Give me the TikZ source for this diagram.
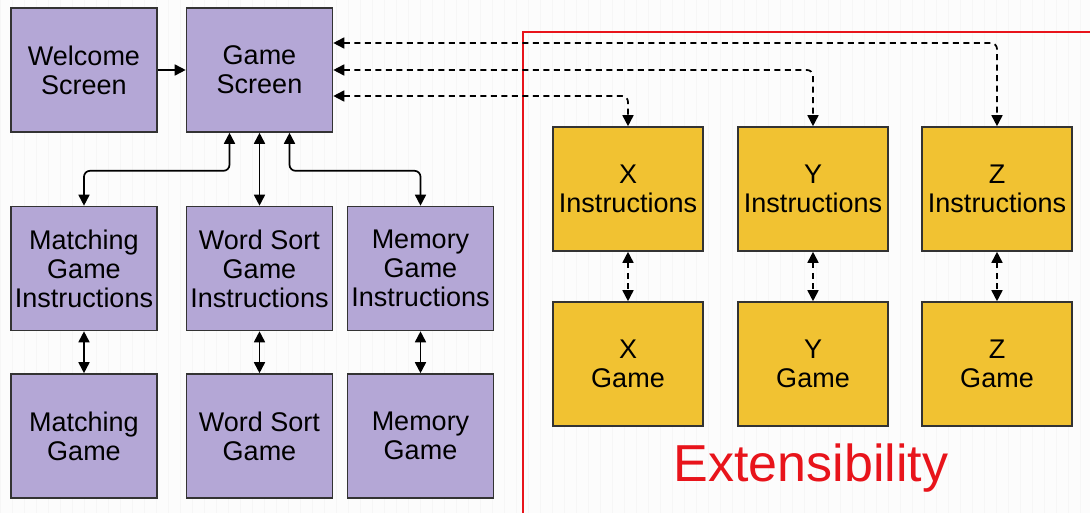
\documentclass[tikz,border=0pt]{standalone}
\usepackage{fontspec}
\setmainfont{Liberation Sans}
\usetikzlibrary{arrows.meta,calc}
\definecolor{boxpurple}{HTML}{B4A7D6}
\definecolor{boxyellow}{HTML}{F1C232}
\definecolor{edgegray}{HTML}{333333}
\definecolor{redline}{HTML}{E8141B}
\tikzset{
  pbox/.style={draw=edgegray, line width=1.6pt, fill=boxpurple, minimum width=146pt, minimum height=124pt, inner sep=0pt, align=center, font=\fontsize{27}{29}\selectfont},
  ybox/.style={draw=edgegray, line width=1.6pt, fill=boxyellow, minimum width=150pt, minimum height=124pt, inner sep=0pt, align=center, font=\fontsize{27}{29}\selectfont},
  tip/.tip={Triangle[width=11pt,length=11pt]},
  conn/.style={line width=1.7pt, draw=black, tip-tip, rounded corners=6pt},
  oneway/.style={line width=1.7pt, draw=black, -tip},
  dconn/.style={conn, dash pattern=on 6pt off 4.5pt}
}
\begin{document}
\begin{tikzpicture}[x=1pt,y=-1pt]
\useasboundingbox (0,0) rectangle (1090,513);
\clip (0,0) rectangle (1090,513);
\fill[white!98!gray] (0,0) rectangle (1090,513);
\draw[gray!7, line width=0.3pt, step=12] (0,0) grid (1092,516);
\draw[redline, line width=1.6pt] (523,32) rectangle (1110,530);

\node[pbox] (WS) at (84,70) {Welcome\\Screen};
\node[pbox] (GS) at (259.5,70) {Game\\Screen};
\node[pbox] (MI) at (84,268.5) {Matching\\Game\\Instructions};
\node[pbox] (WI) at (259.5,268.5) {Word Sort\\Game\\Instructions};
\node[pbox] (EI) at (420.5,268.5) {Memory\\Game\\Instructions};
\node[pbox] (MG) at (84,436) {Matching\\Game};
\node[pbox] (WG) at (259.5,436) {Word Sort\\Game};
\node[pbox] (EG) at (420.5,436) {Memory\\Game};

\node[ybox] (XI) at (628,189) {X\\Instructions};
\node[ybox] (YI) at (813,189) {Y\\Instructions};
\node[ybox] (ZI) at (997,189) {Z\\Instructions};
\node[ybox] (XG) at (628,364) {X\\Game};
\node[ybox] (YG) at (813,364) {Y\\Game};
\node[ybox] (ZG) at (997,364) {Z\\Game};

\node[text=redline, font=\fontsize{52}{58}\selectfont] (EXT) at (811,468) {Extensibility};

\draw[oneway] (WS.east) -- (GS.west);
\draw[conn] ([xshift=-30pt]GS.south) -- ++(0,38) -| (MI.north);
\draw[conn] (GS.south) -- (WI.north);
\draw[conn] ([xshift=30pt]GS.south) -- ++(0,38) -| (EI.north);
\draw[conn] (MI.south) -- (MG.north);
\draw[conn] (WI.south) -- (WG.north);
\draw[conn] (EI.south) -- (EG.north);

\draw[dconn] ([yshift=27pt]GS.east) -| (ZI.north);
\draw[dconn] (GS.east) -| (YI.north);
\draw[dconn] ([yshift=-26pt]GS.east) -| (XI.north);
\draw[dconn] (XI.south) -- (XG.north);
\draw[dconn] (YI.south) -- (YG.north);
\draw[dconn] (ZI.south) -- (ZG.north);
\end{tikzpicture}
\end{document}
